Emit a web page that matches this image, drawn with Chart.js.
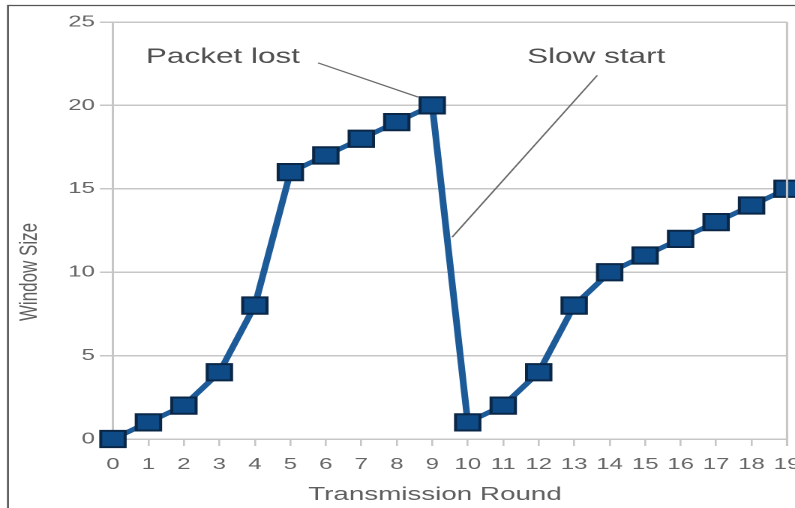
<!DOCTYPE html>
<html>
<head>
<meta charset="utf-8">
<script src="https://cdn.jsdelivr.net/npm/chart.js@4/dist/chart.umd.min.js"></script>
<style>
  body { margin: 0; background: #fff; }
</style>
</head>
<body>
<!-- the reference is stretched sideways, so the canvas is drawn narrow and widened by css -->
<canvas id="cwndChart" width="530" height="508" style="width:795px;height:508px;display:block"></canvas>
<script>
// data
const rounds = [0, 1, 2, 3, 4, 5, 6, 7, 8, 9, 10, 11, 12, 13, 14, 15, 16, 17, 18, 19];
const windowSize = [0, 1, 2, 4, 8, 16, 17, 18, 19, 20, 1, 2, 4, 8, 10, 11, 12, 13, 14, 15];
const yTicks = [0, 5, 10, 15, 20, 25];

// notes: label, where the text sits, and the pointer line (data units)
const noteLabels = ['Packet lost', 'Slow start'];
const noteTextAt = [[3.1, 22.9], [13.62, 22.9]];
const notePointer = [[5.78, 22.55, 8.6, 20.5], [13.65, 21.8, 9.56, 12.1]];

const xTitle = 'Transmission Round';
const yTitle = 'Window Size';

const FONT = "'Liberation Sans', Arial, sans-serif";
const GRID = '#c6c6c6';

const points = rounds.map((r, i) => ({ x: r, y: windowSize[i] }));

// frame, right edge, axis titles and the two notes
const extras = {
    id: 'extras',
    beforeDraw(chart) {
        const ctx = chart.ctx;
        ctx.save();
        ctx.strokeStyle = '#555';
        ctx.lineWidth = 1.3;
        ctx.beginPath();
        ctx.moveTo(5.3, 508);
        ctx.lineTo(5.3, 5.5);
        ctx.lineTo(530, 5.5);
        ctx.stroke();
        ctx.restore();
    },
    afterDraw(chart) {
        const ctx = chart.ctx;
        const xs = chart.scales.x, ys = chart.scales.y;
        const area = chart.chartArea;
        ctx.save();

        // right edge of plot
        ctx.strokeStyle = GRID;
        ctx.lineWidth = 1.5;
        ctx.beginPath();
        ctx.moveTo(area.right, area.top);
        ctx.lineTo(area.right, area.bottom + 7);
        ctx.stroke();

        // axis titles
        ctx.fillStyle = '#5e5e5e';
        ctx.textAlign = 'center';
        ctx.textBaseline = 'middle';
        ctx.font = '18.5px ' + FONT;
        ctx.fillText(xTitle, 290, 495);
        ctx.save();
        ctx.translate(20, 272);
        ctx.rotate(-Math.PI / 2);
        ctx.font = '17px ' + FONT;
        ctx.fillText(yTitle, 0, 0);
        ctx.restore();

        // notes
        ctx.strokeStyle = '#6a6a6a';
        ctx.lineWidth = 1.2;
        notePointer.forEach(p => {
            ctx.beginPath();
            ctx.moveTo(xs.getPixelForValue(p[0]), ys.getPixelForValue(p[1]));
            ctx.lineTo(xs.getPixelForValue(p[2]), ys.getPixelForValue(p[3]));
            ctx.stroke();
        });
        ctx.fillStyle = '#505050';
        ctx.font = '21px ' + FONT;
        noteLabels.forEach((txt, i) => {
            ctx.fillText(txt, xs.getPixelForValue(noteTextAt[i][0]), ys.getPixelForValue(noteTextAt[i][1]));
        });
        ctx.restore();
    }
};

const ctx = document.getElementById('cwndChart').getContext('2d');
const cwndChart = new Chart(ctx, {
    type: 'line',
    data: {
        datasets: [{
            label: yTitle,
            data: points,
            borderColor: '#1d5a98',
            borderWidth: 4.5,
            backgroundColor: '#0e4a86',
            pointStyle: 'rect',
            pointRadius: 11.5,
            pointBorderColor: '#0a2747',
            pointBorderWidth: 2,
            pointBackgroundColor: '#0e4a86',
            tension: 0,
            clip: false
        }]
    },
    options: {
        responsive: false,
        devicePixelRatio: 2,
        animation: false,
        layout: {
            autoPadding: false, // keep the cut-off "19" like the reference
            padding: { top: 22, right: 5.3, left: 0, bottom: 0 }
        },
        plugins: {
            legend: { display: false },
            tooltip: { enabled: false }
        },
        scales: {
            x: {
                type: 'linear',
                min: 0,
                max: 19,
                afterBuildTicks: (scale) => {
                    scale.ticks = rounds.map(v => ({ value: v }));
                },
                afterFit: (scale) => {
                    scale.height = 69;
                    scale.paddingLeft = 0;
                    scale.paddingRight = 0;
                },
                grid: {
                    drawOnChartArea: false,
                    tickLength: 7,
                    color: GRID,
                    lineWidth: 1.3
                },
                border: { color: GRID, width: 1.5 },
                ticks: {
                    padding: 9,
                    maxRotation: 0,
                    autoSkip: false,
                    color: '#666',
                    font: { family: FONT, size: 16 }
                }
            },
            y: {
                min: 0,
                max: 25,
                afterBuildTicks: (scale) => {
                    scale.ticks = yTicks.map(v => ({ value: v }));
                },
                afterFit: (scale) => {
                    scale.width = 75.3;
                    scale.paddingTop = 0;
                    scale.paddingBottom = 0;
                },
                grid: {
                    color: GRID,
                    lineWidth: 1.5,
                    tickLength: 8.7
                },
                border: { color: GRID, width: 1.5 },
                ticks: {
                    padding: 3.3,
                    color: '#666',
                    font: { family: FONT, size: 16 }
                }
            }
        }
    },
    plugins: [extras]
});
</script>
</body>
</html>
